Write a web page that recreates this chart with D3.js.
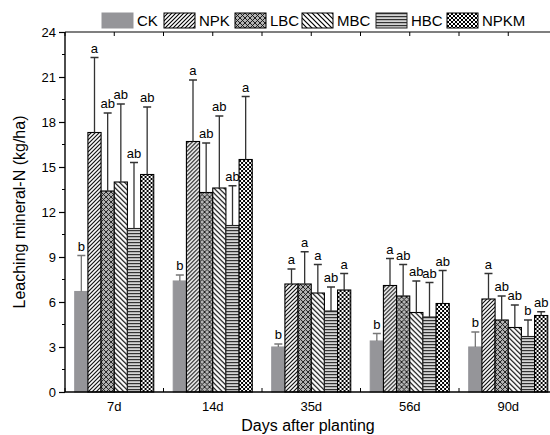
<!DOCTYPE html>
<html>
<head>
<meta charset="utf-8">
<script src="https://cdn.jsdelivr.net/npm/d3@7/dist/d3.min.js"></script>
<style>
  body { margin: 0; background: #fff; }
  svg text { font-family: Arial, "Liberation Sans", sans-serif; fill: #000; }
</style>
</head>
<body>
<div id="chart"></div>
<script>
// days after planting
var categories = ["7d", "14d", "35d", "56d", "90d"];
var treatments = ["CK", "NPK", "LBC", "MBC", "HBC", "NPKM"];

// mean leaching mineral-N (kg/ha), one array per treatment
var CK   = [6.7, 7.4, 3.0, 3.4, 3.0];
var NPK  = [17.3, 16.7, 7.2, 7.1, 6.2];
var LBC  = [13.4, 13.3, 7.2, 6.4, 4.8];
var MBC  = [14.0, 13.6, 6.6, 5.3, 4.3];
var HBC  = [10.9, 11.1, 5.4, 5.0, 3.7];
var NPKM = [14.5, 15.5, 6.8, 5.9, 5.1];

// error bar (upper) lengths
var CK_err   = [2.4, 0.4, 0.2, 0.5, 1.0];
var NPK_err  = [5.0, 4.1, 1.0, 1.8, 1.7];
var LBC_err  = [5.2, 3.3, 2.15, 2.1, 1.6];
var MBC_err  = [5.2, 4.8, 1.9, 2.1, 1.5];
var HBC_err  = [4.4, 2.65, 1.6, 2.3, 1.1];
var NPKM_err = [4.5, 4.2, 1.1, 2.2, 0.25];

// significance letters
var CK_sig   = ["b", "b", "b", "b", "b"];
var NPK_sig  = ["a", "a", "a", "a", "a"];
var LBC_sig  = ["ab", "ab", "a", "ab", "ab"];
var MBC_sig  = ["ab", "ab", "a", "ab", "ab"];
var HBC_sig  = ["ab", "ab", "ab", "ab", "b"];
var NPKM_sig = ["ab", "a", "a", "ab", "ab"];

var yTicks = [0, 3, 6, 9, 12, 15, 18, 21, 24];

var means = { CK: CK, NPK: NPK, LBC: LBC, MBC: MBC, HBC: HBC, NPKM: NPKM };
var errs = { CK: CK_err, NPK: NPK_err, LBC: LBC_err, MBC: MBC_err, HBC: HBC_err, NPKM: NPKM_err };
var sigs = { CK: CK_sig, NPK: NPK_sig, LBC: LBC_sig, MBC: MBC_sig, HBC: HBC_sig, NPKM: NPKM_sig };

var rows = [];
treatments.forEach(function (t) {
    categories.forEach(function (c, i) {
        rows.push({ t: t, c: c, v: means[t][i], e: errs[t][i], s: sigs[t][i] });
    });
});

var svgWidth = 550, svgHeight = 435;
var margin = { top: 32, left: 65, bottom: 43 };
var plotW = 492.5;
var plotH = svgHeight - margin.top - margin.bottom;

var svg = d3.select("#chart").append("svg")
    .attr("width", svgWidth)
    .attr("height", svgHeight);

// fill patterns
var defs = svg.append("defs");
function pat(id, w, h) {
    return defs.append("pattern").attr("id", id)
        .attr("patternUnits", "userSpaceOnUse")
        .attr("width", w).attr("height", h);
}
var p;
p = pat("p-npk", 4, 4);
p.append("rect").attr("width", 4).attr("height", 4).attr("fill", "#fff");
p.append("path").attr("d", "M-1,1 L1,-1 M0,4 L4,0 M3,5 L5,3").attr("stroke", "#000").attr("stroke-width", 1.1);

p = pat("p-lbc", 5, 5);
p.append("rect").attr("width", 5).attr("height", 5).attr("fill", "#b4b4b4");
p.append("path").attr("d", "M0,0 L5,5 M5,0 L0,5").attr("stroke", "#111").attr("stroke-width", 0.9);

p = pat("p-mbc", 5, 5);
p.append("rect").attr("width", 5).attr("height", 5).attr("fill", "#fff");
p.append("path").attr("d", "M-1,4 L1,6 M0,0 L5,5 M4,-1 L6,1").attr("stroke", "#000").attr("stroke-width", 1.2);

p = pat("p-hbc", 4, 3);
p.append("rect").attr("width", 4).attr("height", 3).attr("fill", "#d4d4d4");
p.append("rect").attr("y", 0).attr("width", 4).attr("height", 1.2).attr("fill", "#333");

p = pat("p-npkm", 4, 4);
p.append("rect").attr("width", 4).attr("height", 4).attr("fill", "#fff");
p.append("rect").attr("width", 2).attr("height", 2).attr("fill", "#000");
p.append("rect").attr("x", 2).attr("y", 2).attr("width", 2).attr("height", 2).attr("fill", "#000");

var fills = { CK: "#959599", NPK: "url(#p-npk)", LBC: "url(#p-lbc)", MBC: "url(#p-mbc)", HBC: "url(#p-hbc)", NPKM: "url(#p-npkm)" };
var strokes = { CK: "#959599", NPK: "#000", LBC: "#000", MBC: "#000", HBC: "#222", NPKM: "#000" };

var x0 = d3.scaleBand().domain(categories).range([0, plotW]);
var groupW = 79;
var x1 = d3.scaleBand().domain(treatments)
    .range([(x0.bandwidth() - groupW) / 2, (x0.bandwidth() + groupW) / 2]);
var y = d3.scaleLinear().domain([0, 24]).range([plotH, 0]);

var g = svg.append("g")
    .attr("transform", "translate(" + margin.left + "," + margin.top + ")");

// bars
var bar = g.selectAll(".bar").data(rows).enter().append("g")
    .attr("transform", function (d) { return "translate(" + (x0(d.c) + x1(d.t)) + ",0)"; });

bar.append("rect")
    .attr("x", 0)
    .attr("y", function (d) { return y(d.v); })
    .attr("width", x1.bandwidth())
    .attr("height", function (d) { return y(0) - y(d.v); })
    .attr("fill", function (d) { return fills[d.t]; })
    .attr("stroke", function (d) { return strokes[d.t]; })
    .attr("stroke-width", 1.1);

var bw = x1.bandwidth();
bar.append("path")
    .attr("d", function (d) {
        var top = y(d.v + d.e), cx = bw / 2;
        return "M" + cx + "," + y(d.v) + "V" + top + "M" + (cx - 4) + "," + top + "H" + (cx + 4);
    })
    .attr("fill", "none")
    .attr("stroke", function (d) { return d.t === "CK" ? "#777" : "#333"; })
    .attr("stroke-width", 1.3);

bar.append("text")
    .attr("x", bw / 2)
    .attr("y", function (d) { return y(d.v + d.e) - 5; })
    .attr("text-anchor", "middle")
    .style("font-size", "13px")
    .text(function (d) { return d.s; });

// y axis
var yAxis = d3.axisLeft(y).tickValues(yTicks).tickSize(6).tickPadding(3);
var yg = g.append("g").call(yAxis);
yg.select(".domain").remove();
yg.selectAll("text").style("font-size", "13px");
yg.selectAll("line").attr("stroke-width", 1.2);
var yMinor = d3.range(1.5, 24, 3);
g.selectAll(".yminor").data(yMinor).enter().append("line")
    .attr("x1", -3).attr("x2", 0)
    .attr("y1", function (d) { return y(d); }).attr("y2", function (d) { return y(d); })
    .attr("stroke", "#000").attr("stroke-width", 1);

// x axis ticks at centres and at group boundaries, pointing inwards
var xTickPos = [];
categories.forEach(function (c) {
    xTickPos.push(x0(c));
    xTickPos.push(x0(c) + x0.bandwidth() / 2);
});
var xAxis = d3.axisBottom(x0).tickSize(0).tickPadding(10);
var xg = g.append("g").attr("transform", "translate(0," + plotH + ")").call(xAxis);
xg.select(".domain").remove();
xg.selectAll("text").style("font-size", "13px");

g.selectAll(".xtb").data(xTickPos).enter().append("line")
    .attr("x1", function (d) { return d; }).attr("x2", function (d) { return d; })
    .attr("y1", plotH).attr("y2", plotH - 4)
    .attr("stroke", "#000").attr("stroke-width", 1);
g.selectAll(".xtt").data(xTickPos).enter().append("line")
    .attr("x1", function (d) { return d; }).attr("x2", function (d) { return d; })
    .attr("y1", 0).attr("y2", 4)
    .attr("stroke", "#000").attr("stroke-width", 1);

// frame lines
g.append("line").attr("x1", 0).attr("x2", plotW).attr("y1", plotH).attr("y2", plotH)
    .attr("stroke", "#000").attr("stroke-width", 1.4);
g.append("line").attr("x1", 0).attr("x2", plotW).attr("y1", 0).attr("y2", 0)
    .attr("stroke", "#000").attr("stroke-width", 1.2);
g.append("line").attr("x1", 0).attr("x2", 0).attr("y1", 0).attr("y2", plotH)
    .attr("stroke", "#000").attr("stroke-width", 1.4);

// axis titles
svg.append("text")
    .attr("x", margin.left + 243)
    .attr("y", 431)
    .attr("text-anchor", "middle")
    .style("font-size", "16px")
    .text("Days after planting");
svg.append("text")
    .attr("transform", "translate(25," + (margin.top + plotH / 2) + ") rotate(-90)")
    .attr("text-anchor", "middle")
    .style("font-size", "16px")
    .text("Leaching mineral-N (kg/ha)");

// legend
var legendX = [102, 164, 235, 302, 376, 447];
var lg = svg.append("g").selectAll("g").data(treatments).enter().append("g")
    .attr("transform", function (d, i) { return "translate(" + legendX[i] + ",13)"; });
lg.append("rect")
    .attr("width", 31).attr("height", 15)
    .attr("fill", function (d) { return fills[d]; })
    .attr("stroke", function (d) { return strokes[d]; })
    .attr("stroke-width", 1);
lg.append("text")
    .attr("x", 35).attr("y", 13)
    .style("font-size", "15px")
    .text(function (d) { return d; });
</script>
</body>
</html>
